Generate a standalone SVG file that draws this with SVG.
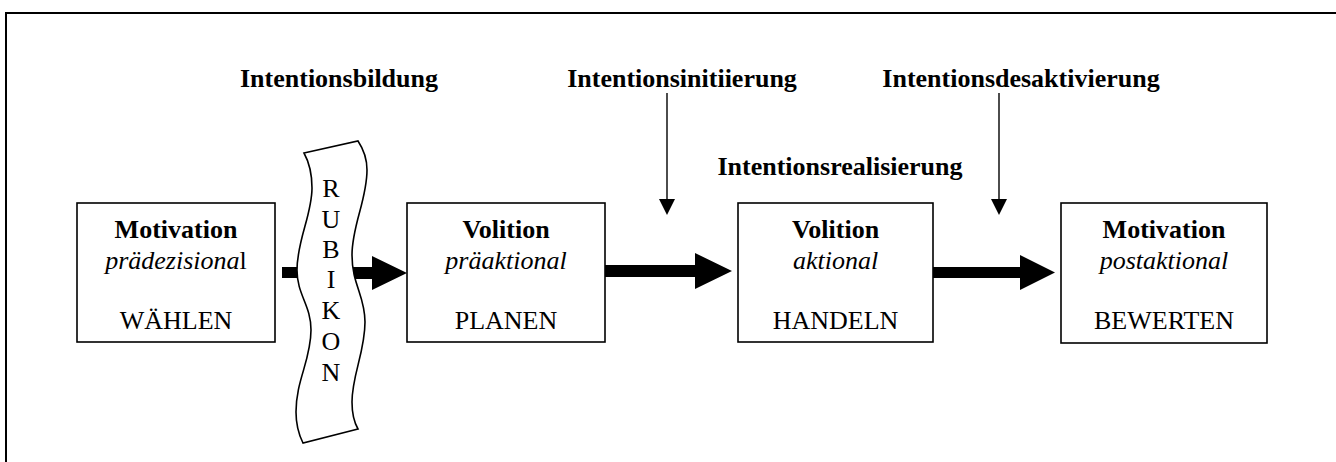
<svg xmlns="http://www.w3.org/2000/svg" width="1336" height="462" viewBox="0 0 1336 462">
<style>
.box{fill:#fff;stroke:#000;stroke-width:1.6}
.t{font-family:"Liberation Serif","Times New Roman",serif;font-size:26px;fill:#000;text-anchor:middle}
.b{font-weight:bold}
.i{font-style:italic}
.thin{stroke:#000;stroke-width:1.4;fill:none}
.fill{fill:#000;stroke:none}
</style>
<rect x="0" y="0" width="1336" height="462" fill="#fff"/>
<path d="M6,462 V13 H1336" fill="none" stroke="#000" stroke-width="2"/>

<g id="labels">
<text class="t b" x="339" y="87">Intentionsbildung</text>
<text class="t b" x="682" y="87">Intentionsinitiierung</text>
<text class="t b" x="840" y="175">Intentionsrealisierung</text>
<text class="t b" x="1021" y="87">Intentionsdesaktivierung</text>
</g>

<g id="connectors">
<line class="thin" x1="667" y1="93" x2="667" y2="200"/>
<polygon class="fill" points="659,199 675,199 667,215"/>
<line class="thin" x1="999" y1="93" x2="999" y2="200"/>
<polygon class="fill" points="991,199 1007,199 999,215"/>
<rect class="fill" x="282" y="267" width="20" height="11"/>
<polygon class="fill" points="350,267 372,267 372,256 407,273 372,290 372,279 350,279"/>
<polygon class="fill" points="605,265 695,265 695,253 732,271 695,289 695,277 605,277"/>
<polygon class="fill" points="933,267 1020,267 1020,255 1055,272.5 1020,290 1020,278 933,278"/>
</g>

<g id="rubikon">
<path d="M304,153 L358,141 C364,150 367,160 367,170 C367,200 352,225 352,255 C352,285 365,295 365,322 C365,352 352,375 352,402 C352,415 354,422 358,429 L303,443 C299,435 296,425 296,412 C296,380 311,360 311,330 C311,305 297,295 297,270 C297,240 312,215 312,188 C312,172 309,162 304,153 Z" fill="#fff" stroke="#000" stroke-width="1.6"/>
<text class="t" x="331" y="197">R</text>
<text class="t" x="331" y="228">U</text>
<text class="t" x="331" y="258">B</text>
<text class="t" x="331" y="288">I</text>
<text class="t" x="331" y="319">K</text>
<text class="t" x="331" y="350">O</text>
<text class="t" x="331" y="381">N</text>
</g>

<g id="box1">
<rect class="box" x="77" y="203" width="198" height="139"/>
<text class="t b" x="176" y="238">Motivation</text>
<text class="t" x="176" y="269"><tspan class="i">prädezisiona</tspan>l</text>
<text class="t" x="176" y="329">WÄHLEN</text>
</g>

<g id="box2">
<rect class="box" x="407" y="203" width="198" height="139"/>
<text class="t b" x="506" y="238">Volition</text>
<text class="t i" x="506" y="269">präaktional</text>
<text class="t" x="506" y="329">PLANEN</text>
</g>

<g id="box3">
<rect class="box" x="738" y="203" width="195" height="139"/>
<text class="t b" x="835.5" y="238">Volition</text>
<text class="t i" x="835.5" y="269">aktional</text>
<text class="t" x="835.5" y="329">HANDELN</text>
</g>

<g id="box4">
<rect class="box" x="1061" y="203" width="206" height="140"/>
<text class="t b" x="1164" y="238">Motivation</text>
<text class="t i" x="1164" y="269">postaktional</text>
<text class="t" x="1164" y="329">BEWERTEN</text>
</g>
</svg>
